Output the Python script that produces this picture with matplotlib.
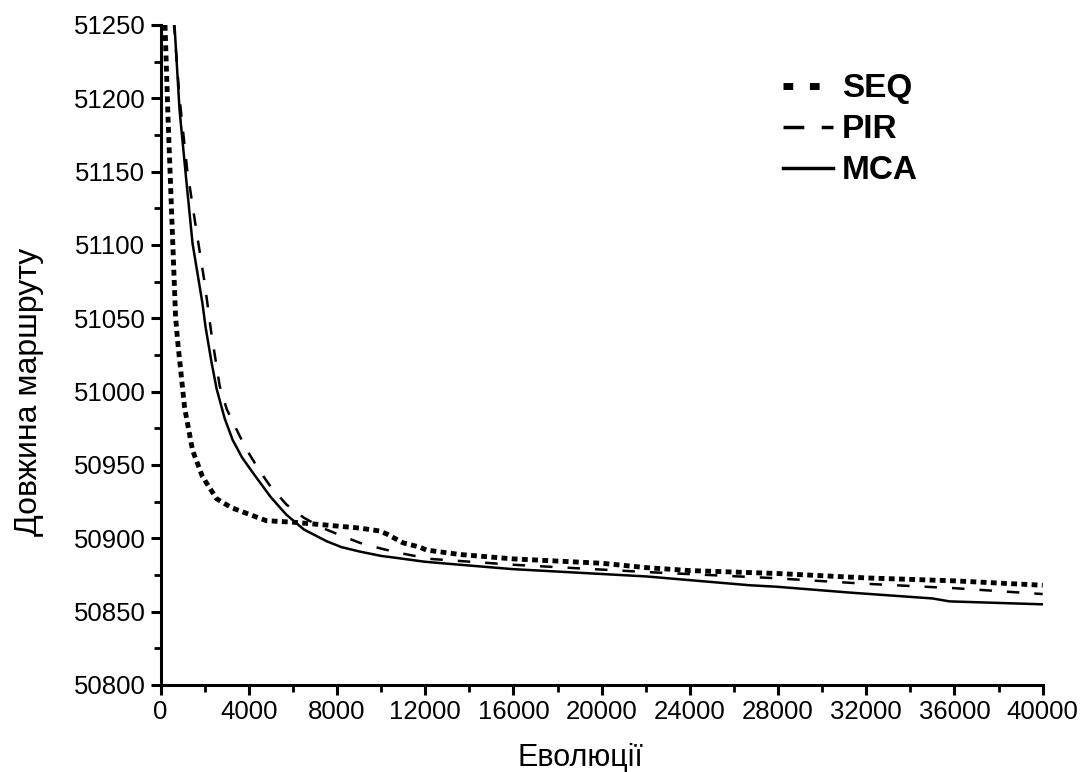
import matplotlib
matplotlib.use("Agg")
import matplotlib.pyplot as plt
from matplotlib.lines import Line2D
from matplotlib.ticker import MultipleLocator

plt.rcParams["font.family"] = ["Liberation Sans", "DejaVu Sans"]

# --- data ---
x_seq = [200, 330, 500, 680, 770, 1090, 1450, 1900, 2540, 3200, 3900, 4800, 6000,
         7530, 9020, 9930, 10250, 10980, 11750, 12060, 13560, 15960, 20000, 22040,
         24000, 28000, 32000, 36000, 40000]
y_seq = [51250, 51190, 51122, 51051, 51035, 50989, 50960, 50942, 50927, 50921, 50917,
         50912, 50911, 50909, 50907, 50905, 50903, 50897, 50894, 50892, 50889, 50886,
         50883, 50880, 50878, 50876, 50873, 50871, 50868]

x_pir = [600, 860, 1200, 1600, 2000, 2300, 2680, 3000, 3580, 4000, 4490, 5000, 5710,
         6500, 7350, 8000, 9020, 10000, 10840, 12200, 15960, 22040, 27620, 32000,
         36000, 40000]
y_pir = [51252, 51200, 51152, 51112, 51074, 51040, 51004, 50988, 50970, 50958, 50946,
         50935, 50923, 50914, 50907, 50903, 50897, 50893, 50890, 50886, 50882, 50877,
         50873, 50869, 50866, 50862]

x_mca = [635, 860, 1180, 1450, 1900, 2040, 2310, 2540, 2900, 3270, 3700, 4170, 5000,
         5710, 6500, 7530, 8200, 9020, 10000, 10520, 12000, 13560, 15960, 22040,
         26710, 27930, 31250, 35000, 35780, 40000]
y_mca = [51249, 51192, 51142, 51101, 51060, 51044, 51020, 51002, 50982, 50967, 50955,
         50945, 50928, 50916, 50906, 50898, 50894, 50891, 50888, 50887, 50884, 50882,
         50879, 50874, 50868, 50867, 50863, 50859, 50857, 50855]

labels = ["SEQ", "PIR", "MCA"]

# --- figure ---
fig = plt.figure(figsize=(10.85, 7.72), dpi=100)
ax = fig.add_axes([0.148, 0.1127, 0.813, 0.855])

ax.plot(x_seq, y_seq, color="black", lw=3.5, linestyle=(0, (1.2, 0.9)))
ax.plot(x_pir, y_pir, color="black", lw=1.8, linestyle=(0, (5, 6)))
ax.plot(x_mca, y_mca, color="black", lw=1.8, linestyle="-")

ax.set_xlim(0, 40000)
ax.set_ylim(50800, 51250)
ax.xaxis.set_major_locator(MultipleLocator(4000))
ax.xaxis.set_minor_locator(MultipleLocator(2000))
ax.yaxis.set_major_locator(MultipleLocator(50))
ax.yaxis.set_minor_locator(MultipleLocator(25))

for side in ["top", "right"]:
    ax.spines[side].set_visible(False)
for side in ["left", "bottom"]:
    ax.spines[side].set_linewidth(2.2)

ax.tick_params(which="major", direction="out", length=7, width=2.2, labelsize=18.5, pad=4)
ax.tick_params(which="minor", direction="out", length=5, width=2.0)

ax.set_xlabel("Еволюції", fontsize=22, va="center")
ax.xaxis.set_label_coords(0.476, -0.1106)
ax.set_ylabel("Довжина маршруту", fontsize=23, va="center")
ax.yaxis.set_label_coords(-0.149, 0.444)

# legend proxies
handles = [
    Line2D([], [], color="black", lw=5, linestyle=(0, (1.4, 2.4))),
    Line2D([], [], color="black", lw=2.5, linestyle=(0, (6, 5))),
    Line2D([], [], color="black", lw=2.5, linestyle="-"),
]
leg = ax.legend(handles, labels, loc="upper left", bbox_to_anchor=(0.672, 0.972),
                frameon=False, handlelength=1.5, handletextpad=0.25, labelspacing=0.3,
                prop={"size": 24, "weight": "bold"})

fig.savefig("out.png", dpi=100)
